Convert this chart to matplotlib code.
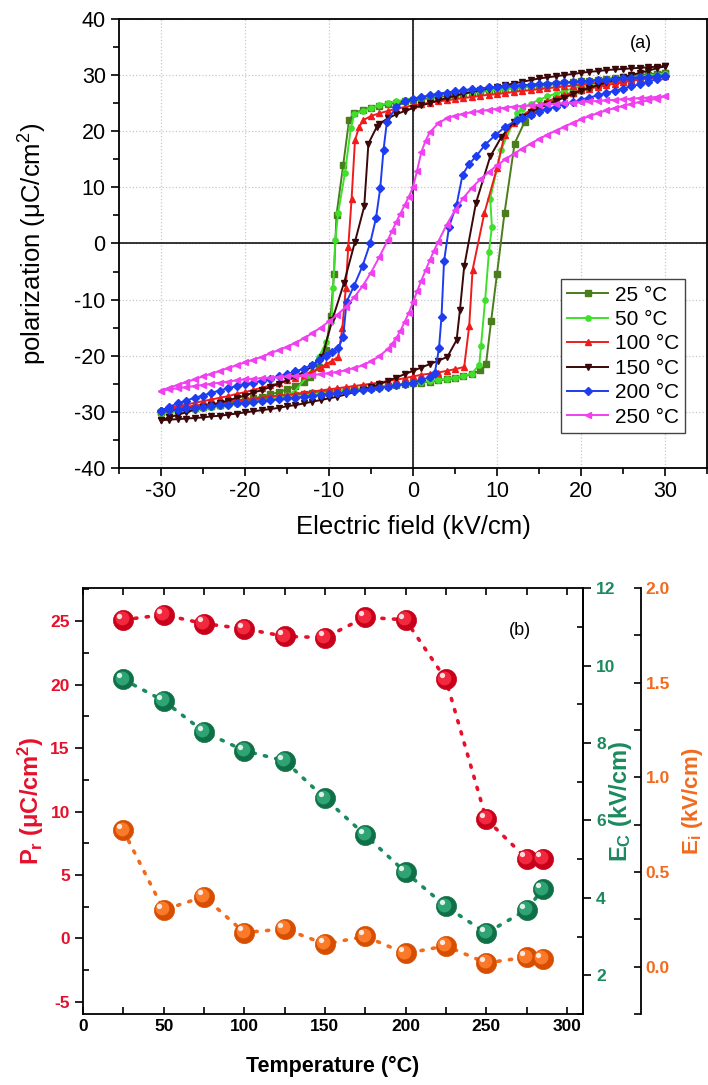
import numpy as np
import matplotlib
matplotlib.use('Agg')
import matplotlib.pyplot as plt
from matplotlib.ticker import MultipleLocator
from matplotlib.transforms import ScaledTranslation

plt.rcParams['font.family'] = ['Liberation Sans', 'DejaVu Sans']
plt.rcParams['mathtext.fontset'] = 'custom'
plt.rcParams['mathtext.rm'] = 'Liberation Sans'
plt.rcParams['mathtext.it'] = 'Liberation Sans:italic'
plt.rcParams['mathtext.bf'] = 'Liberation Sans:bold'
plt.rcParams['axes.unicode_minus'] = False

##############################################################################
# (a) P-E loops. "dn" = field going +30 -> -30, "up" = -30 -> +30
E25_dn = list(range(30, -7, -1)) + [-7, -7.6, -8.3, -9.1, -9.4, -9.8, -10.4, -11.2, -12.2] + list(range(-13, -31, -1))
P25_dn = [30.4, 30.2, 30.1, 29.9, 29.8, 29.6, 29.5, 29.3, 29.2, 29.0,
          28.9, 28.7, 28.6, 28.4, 28.3, 28.1, 28.0, 27.8, 27.7, 27.5,
          27.4, 27.2, 27.0, 26.9, 26.7, 26.5, 26.3, 26.1, 25.9, 25.7,
          25.5, 25.3, 25.1, 24.8, 24.5, 24.2, 23.8,
          23.2, 22.0, 14.0, 5.1, -5.5, -13.0, -19.0, -22.0, -23.8,
          -24.6, -25.4, -26.0, -26.5, -26.9, -27.3, -27.6, -27.9, -28.2, -28.4,
          -28.7, -28.9, -29.1, -29.3, -29.5, -29.7, -29.9, -30.1]
E25_up = list(range(-30, 7)) + [7, 8, 8.7, 9.3, 10.0, 10.9, 12.1, 13.3] + list(range(14, 31))
P25_up = [-30.1, -29.9, -29.7, -29.5, -29.3, -29.1, -28.9, -28.7, -28.5, -28.3,
          -28.1, -27.9, -27.7, -27.5, -27.4, -27.2, -27.0, -26.9, -26.7, -26.6,
          -26.4, -26.3, -26.1, -26.0, -25.8, -25.7, -25.5, -25.4, -25.2, -25.1,
          -24.9, -24.8, -24.6, -24.4, -24.2, -24.0, -23.7,
          -23.3, -22.6, -21.5, -13.9, -5.5, 5.4, 17.8, 21.7,
          23.0, 24.2, 25.1, 25.8, 26.4, 26.9, 27.4, 27.8, 28.2, 28.6,
          28.9, 29.2, 29.5, 29.7, 30.0, 30.2, 30.4]

E50_dn = list(range(30, -6, -1)) + [-6, -7.0, -7.4, -8.1, -8.9, -9.25, -9.5, -9.7, -10.3, -11.2, -12.5, -14.2] + list(range(-15, -31, -1))
P50_dn = [30.2, 30.0, 29.9, 29.8, 29.6, 29.5, 29.4, 29.2, 29.1, 29.0,
          28.8, 28.7, 28.6, 28.4, 28.3, 28.2, 28.0, 27.9, 27.8, 27.6,
          27.5, 27.3, 27.2, 27.0, 26.9, 26.7, 26.5, 26.4, 26.2, 26.0,
          25.8, 25.6, 25.3, 25.0, 24.6, 24.1,
          23.6, 23.0, 20.5, 12.5, 5.5, 0.6, -8.0, -14.0, -17.5, -20.2, -23.5, -26.6,
          -27.0, -27.4, -27.7, -28.0, -28.2, -28.4, -28.6, -28.8, -29.0, -29.2,
          -29.3, -29.5, -29.7, -29.8, -30.0, -30.2]
E50_up = list(range(-30, 8)) + [7.9, 8.1, 8.6, 9.05, 9.4, 9.2, 10.5, 12.4] + list(range(13, 31))
P50_up = [-30.2, -30.0, -29.9, -29.7, -29.6, -29.4, -29.2, -29.0, -28.8, -28.6,
          -28.4, -28.2, -28.0, -27.8, -27.6, -27.4, -27.2, -27.1, -26.9, -26.7,
          -26.6, -26.4, -26.2, -26.1, -25.9, -25.7, -25.6, -25.4, -25.2, -25.0,
          -24.9, -24.7, -24.5, -24.3, -24.1, -23.9, -23.6, -23.2,
          -21.6, -18.3, -10.0, -1.5, 3.0, 8.0, 16.7, 23.2,
          24.0, 24.9, 25.6, 26.2, 26.7, 27.2, 27.6, 28.0, 28.3, 28.6,
          28.9, 29.1, 29.3, 29.5, 29.7, 29.9, 30.0, 30.2]

E100_dn = list(range(30, -6, -1)) + [-5.9, -6.4, -6.9, -7.3, -7.7, -8.0, -8.4, -8.9, -9.6, -10.3] + list(range(-11, -31, -1))
P100_dn = [29.8, 29.7, 29.5, 29.4, 29.2, 29.1, 28.9, 28.8, 28.6, 28.5,
           28.3, 28.1, 28.0, 27.8, 27.7, 27.5, 27.3, 27.2, 27.0, 26.8,
           26.6, 26.5, 26.3, 26.1, 25.9, 25.7, 25.5, 25.3, 25.1, 24.8,
           24.6, 24.3, 24.0, 23.6, 23.2, 22.7,
           22.0, 20.8, 18.4, 8.0, -0.6, -8.0, -15.0, -20.2, -20.9, -21.5,
           -22.1, -22.8, -23.4, -23.9, -24.4, -24.9, -25.3, -25.7, -26.1, -26.5,
           -26.8, -27.2, -27.5, -27.8, -28.1, -28.4, -28.7, -29.0, -29.3, -29.6]
E100_up = list(range(-30, 6)) + [6.1, 6.7, 7.1, 8.5, 10.0, 10.9] + list(range(12, 31))
P100_up = [-29.6, -29.4, -29.3, -29.1, -28.9, -28.7, -28.6, -28.4, -28.2, -28.0,
           -27.8, -27.7, -27.5, -27.3, -27.1, -27.0, -26.8, -26.6, -26.4, -26.2,
           -26.0, -25.8, -25.6, -25.4, -25.2, -25.0, -24.8, -24.5, -24.3, -24.0,
           -23.7, -23.4, -23.2, -23.0, -22.7, -22.4,
           -22.0, -14.7, -4.7, 5.4, 13.4, 19.3,
           21.5, 22.8, 23.8, 24.6, 25.3, 25.9, 26.4, 26.9, 27.3, 27.6,
           27.9, 28.2, 28.5, 28.7, 29.0, 29.2, 29.4, 29.6, 29.8]

E150_dn = list(range(30, -4, -1)) + [-4, -4.3, -5.3, -5.8, -6.9, -8.2, -9.6, -10.8] + list(range(-12, -31, -1))
P150_dn = [31.6, 31.5, 31.4, 31.3, 31.2, 31.1, 31.0, 30.9, 30.7, 30.6,
           30.4, 30.2, 30.0, 29.8, 29.6, 29.4, 29.1, 28.8, 28.5, 28.2,
           27.9, 27.6, 27.3, 27.0, 26.7, 26.3, 25.9, 25.5, 25.0, 24.6,
           24.1, 23.6, 23.0, 22.3,
           21.3, 20.8, 17.8, 6.6, 0.3, -7.0, -13.6, -20.2,
           -21.9, -22.9, -23.7, -24.4, -25.0, -25.6, -26.1, -26.6, -27.1,
           -27.5, -28.0, -28.4, -28.8, -29.2, -29.6, -30.1, -30.5, -31.0, -31.5]
E150_up = list(range(-30, 4)) + [4.1, 5.2, 5.6, 6.1, 7.5, 9.2, 10.5] + list(range(12, 31))
P150_up = [-31.5, -31.4, -31.3, -31.2, -31.1, -31.0, -30.8, -30.7, -30.5, -30.3,
           -30.1, -29.9, -29.7, -29.5, -29.3, -29.0, -28.8, -28.5, -28.2, -27.9,
           -27.6, -27.3, -26.9, -26.5, -26.1, -25.6, -25.1, -24.5, -23.9, -23.3,
           -22.7, -22.1, -21.5, -20.9,
           -20.2, -17.2, -11.8, -4.1, 7.2, 15.5, 18.9,
           21.7, 22.6, 23.4, 24.1, 24.8, 25.4, 26.0, 26.6, 27.2, 27.7,
           28.2, 28.7, 29.2, 29.6, 30.0, 30.4, 30.8, 31.2, 31.6]

E200_dn = list(range(30, -3, -1)) + [-3.1, -3.5, -3.9, -4.4, -5.1, -6, -7.0, -7.9, -8.3, -8.9, -9.6, -10.4, -11.2] + list(range(-12, -31, -1))
P200_dn = [29.9, 29.8, 29.7, 29.6, 29.5, 29.4, 29.3, 29.2, 29.1, 29.0,
           28.9, 28.8, 28.7, 28.6, 28.5, 28.4, 28.3, 28.2, 28.1, 28.0,
           27.9, 27.8, 27.6, 27.5, 27.3, 27.1, 26.9, 26.7, 26.4, 26.1,
           25.8, 25.3, 24.3,
           21.7, 16.7, 9.8, 4.5, 0.0, -4.0, -7.5, -10.4, -16.6, -18.7, -19.4, -20.0, -20.8,
           -21.6, -22.3, -22.8, -23.3, -23.7, -24.1, -24.5, -24.8, -25.1,
           -25.4, -25.8, -26.2, -26.6, -27.1, -27.5, -28.0, -28.5, -29.1, -29.8]
E200_up = list(range(-30, 3)) + [2.6, 3.1, 3.4, 3.7, 4.3, 5.2, 5.9, 6.7, 7.5, 8.6, 9.8, 11, 12.4] + list(range(13, 31))
P200_up = [-29.8, -29.7, -29.6, -29.4, -29.3, -29.1, -29.0, -28.8, -28.7, -28.5,
           -28.4, -28.2, -28.1, -27.9, -27.8, -27.6, -27.5, -27.3, -27.2, -27.0,
           -26.8, -26.7, -26.5, -26.3, -26.1, -25.9, -25.7, -25.5, -25.3, -25.0,
           -24.8, -24.4, -23.8,
           -23.1, -18.7, -13.1, -3.2, 3.0, 6.9, 12.2, 14.2, 15.5, 17.6, 19.3, 20.8, 22.0,
           22.3, 22.9, 23.4, 23.9, 24.4, 24.8, 25.2, 25.6, 26.0, 26.4,
           26.8, 27.2, 27.6, 28.0, 28.4, 28.8, 29.3, 29.9]

E250_dn = list(range(30, 2, -1)) + [2, 1.5, 1, 0.5, 0, -0.5, -1, -1.5, -2, -2.5] + list(range(-3, -31, -1))
P250_dn = [26.2, 26.1, 26.0, 25.9, 25.8, 25.7, 25.6, 25.5, 25.4, 25.3,
           25.2, 25.1, 25.0, 24.9, 24.8, 24.7, 24.6, 24.5, 24.4, 24.2,
           24.0, 23.8, 23.6, 23.4, 23.1, 22.8, 22.3, 21.4,
           19.8, 18.3, 16.3, 13.0, 10.0, 8.3, 6.8, 5.3, 3.8, 2.2,
           0.6, -2.4, -5.2, -7.6, -9.6, -11.3, -12.7,
           -13.9, -15.0, -16.0, -16.9, -17.7, -18.4, -19.0, -19.6, -20.2, -20.7,
           -21.2, -21.7, -22.2, -22.7, -23.2, -23.7, -24.2, -24.7, -25.2, -25.7, -26.2]
E250_up = list(range(-30, -2)) + [-2.5, -2, -1.5, -1, -0.5, 0, 0.5, 1, 1.5, 2, 2.5] + list(range(3, 31))
P250_up = [-26.2, -26.0, -25.8, -25.6, -25.4, -25.2, -25.0, -24.8, -24.6, -24.4,
           -24.2, -24.1, -24.0, -23.9, -23.8, -23.7, -23.6, -23.5, -23.4, -23.3,
           -23.1, -22.9, -22.6, -22.2, -21.7, -21.0, -20.1, -18.8,
           -17.9, -16.9, -15.6, -14.0, -12.4, -10.5, -8.5, -6.6, -4.8, -3.0, -1.3,
           0.3, 3.3, 5.9, 8.1, 9.9, 11.4, 12.7, 13.9,
           15.0, 16.0, 16.9, 17.8, 18.6, 19.4, 20.1, 20.8, 21.5, 22.1,
           22.7, 23.2, 23.7, 24.1, 24.5, 24.9, 25.2, 25.5, 25.8, 26.2]

loop_labels = ['25 °C', '50 °C', '100 °C', '150 °C', '200 °C', '250 °C']

# (b) parameters vs temperature
temperature = [25, 50, 75, 100, 125, 150, 175, 200, 225, 250, 275, 285]
Pr = [25.1, 25.5, 24.8, 24.4, 23.8, 23.7, 25.3, 25.1, 20.4, 9.4, 6.3, 6.3]
Ec = [9.64, 9.09, 8.29, 7.80, 7.54, 6.57, 5.62, 4.66, 3.78, 3.09, 3.69, 4.22]
Ei = [0.72, 0.30, 0.37, 0.18, 0.20, 0.12, 0.16, 0.07, 0.11, 0.02, 0.05, 0.04]
##############################################################################

fig = plt.figure(figsize=(7.08, 10.85), dpi=100)

# ---------------- (a)
ax = fig.add_axes([0.168, 0.5687, 0.8305, 0.4138])
loops = [(E25_dn, P25_dn, E25_up, P25_up),
         (E50_dn, P50_dn, E50_up, P50_up),
         (E100_dn, P100_dn, E100_up, P100_up),
         (E150_dn, P150_dn, E150_up, P150_up),
         (E200_dn, P200_dn, E200_up, P200_up),
         (E250_dn, P250_dn, E250_up, P250_up)]
colors = ['#4a7d1c', '#3ee02a', '#f01c1c', '#3a0808', '#1e3cf0', '#f040f0']
marks = ['s', 'o', '^', 'v', 'D', '<']
msize = [3.8, 3.8, 4.5, 4.5, 3.8, 4.5]

handles = []
for i in range(len(loops)):
    Ed, Pd, Eu, Pu = loops[i]
    E = np.concatenate([Ed, Eu])
    P = np.concatenate([Pd, Pu])
    h, = ax.plot(E, P, '-', color=colors[i], marker=marks[i], ms=msize[i], lw=1.4,
                 mec=colors[i], label=loop_labels[i])
    handles.append(h)

ax.axhline(0, color='k', lw=1.1, zorder=1)
ax.axvline(0, color='k', lw=1.1, zorder=1)
ax.set_xlim(-35, 35)
ax.set_ylim(-40, 40)
ax.xaxis.set_major_locator(MultipleLocator(10))
ax.xaxis.set_minor_locator(MultipleLocator(5))
ax.yaxis.set_major_locator(MultipleLocator(10))
ax.yaxis.set_minor_locator(MultipleLocator(5))
ax.tick_params(which='both', direction='out', top=False, right=False, width=1.2)
ax.tick_params(which='major', length=6, labelsize=15.5)
ax.tick_params(which='minor', length=4)
ax.grid(True, which='major', ls=':', color='#c8c8c8', lw=0.9)
ax.set_axisbelow(True)
for s in ax.spines.values():
    s.set_linewidth(1.3)
ax.set_xlabel('Electric field (kV/cm)', fontsize=18.5, labelpad=9)
ax.set_ylabel('polarization (μC/cm$^2$)', fontsize=18.5, labelpad=18)
ax.text(0.888, 0.946, '(a)', transform=ax.transAxes, fontsize=13, ha='center', va='center')

leg = ax.legend(handles=handles, loc='lower right', bbox_to_anchor=(0.963, 0.078),
                fontsize=15, handlelength=2.0, handletextpad=0.3, labelspacing=0.26,
                borderpad=0.3, fancybox=False, framealpha=1, edgecolor='#444444',
                borderaxespad=0)
leg.get_frame().set_linewidth(1.0)

# ---------------- (b)
red, green, orange = '#e5112c', '#1b8a5e', '#f26a1c'
bx = fig.add_axes([0.1172, 0.0654, 0.7062, 0.3926])
bx2 = bx.twinx()
bx3 = bx.twinx()
bx3.spines['right'].set_position(('axes', 1.116))
for a in (bx2, bx3):
    for k in ('left', 'top', 'bottom'):
        a.spines[k].set_visible(False)

bx.set_xlim(0, 310)
bx.set_ylim(-5.95, 27.6)
bx2.set_ylim(1, 12)
bx3.set_ylim(-0.25, 2.0)

def spheres(a, y, base, mid, line):
    a.plot(temperature, y, ls=(0, (0.6, 2.6)), lw=2.6, color=line,
           dash_capstyle='round', zorder=2)
    a.plot(temperature, y, 'o', ms=14.5, mfc=base, mec=base, mew=0.5, zorder=3)
    off1 = a.transData + ScaledTranslation(-1.2 / 72, 1.2 / 72, fig.dpi_scale_trans)
    a.plot(temperature, y, 'o', ms=10, mfc=mid, mec='none', zorder=4, transform=off1)
    off2 = a.transData + ScaledTranslation(-3.0 / 72, 3.0 / 72, fig.dpi_scale_trans)
    a.plot(temperature, y, 'o', ms=3.8, mfc='#ffffff', mec='none', alpha=0.85,
           zorder=5, transform=off2)

spheres(bx, Pr, '#c8001a', '#f2283e', red)
spheres(bx2, Ec, '#0f7047', '#2ea373', green)
spheres(bx3, Ei, '#d84e00', '#fa7a2a', orange)

bx.xaxis.set_major_locator(MultipleLocator(50))
bx.xaxis.set_minor_locator(MultipleLocator(25))
bx.yaxis.set_major_locator(MultipleLocator(5))
bx.yaxis.set_minor_locator(MultipleLocator(2.5))
bx2.yaxis.set_major_locator(MultipleLocator(2))
bx2.yaxis.set_minor_locator(MultipleLocator(1))
bx3.yaxis.set_major_locator(MultipleLocator(0.5))
bx3.yaxis.set_minor_locator(MultipleLocator(0.25))

bx.tick_params(axis='x', which='both', direction='in', top=True, length=5, width=1.2,
               labelsize=12.5)
bx.tick_params(axis='y', which='major', direction='out', length=6, width=1.2,
               labelsize=12.5, labelcolor=red)
bx.tick_params(axis='y', which='minor', direction='in', length=4, width=1.2)
bx2.tick_params(axis='y', which='major', direction='out', length=6, width=1.2,
                labelsize=12.5, labelcolor=green)
bx2.tick_params(axis='y', which='minor', direction='in', length=4, width=1.2)
bx3.tick_params(axis='y', which='both', direction='in', length=5, width=1.2,
                labelsize=12.5, labelcolor=orange)
for a in (bx, bx2, bx3):
    for s in a.spines.values():
        s.set_linewidth(1.3)
    for t in a.get_xticklabels() + a.get_yticklabels():
        t.set_fontweight('bold')

bx.set_xlabel('Temperature (°C)', fontsize=15.5, fontweight='bold', labelpad=16)
bx.set_ylabel(r'$\mathbf{P_r}$ (μC/cm$^{\mathbf{2}}$)', fontsize=17, fontweight='bold',
              color=red, labelpad=3)
bx2.set_ylabel(r'$\mathbf{E_C}$ (kV/cm)', fontsize=17, fontweight='bold', color=green,
               labelpad=-6)
bx3.set_ylabel(r'$\mathbf{E_i}$ (kV/cm)', fontsize=16, fontweight='bold', color=orange,
               labelpad=7)
bx.text(0.873, 0.9, '(b)', transform=bx.transAxes, fontsize=13, ha='center', va='center')

fig.savefig('out.png', dpi=100)
